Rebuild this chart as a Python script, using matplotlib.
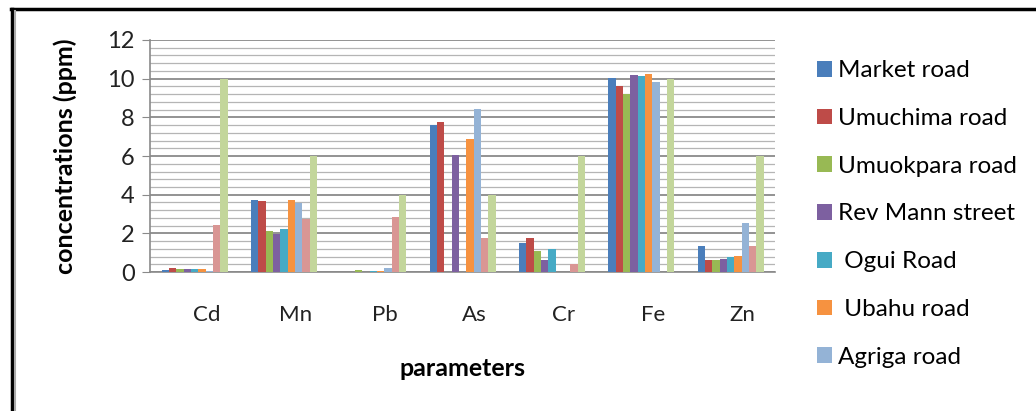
import matplotlib.pyplot as plt
import matplotlib.transforms as mtransforms
from matplotlib.lines import Line2D
from matplotlib.ticker import MultipleLocator
import numpy as np

plt.rcParams['font.family'] = ['Lato', 'DejaVu Sans']

params = ["Cd", "Mn", "Pb", "As", "Cr", "Fe", "Zn"]
sites = ["Market road", "Umuchima road", "Umuokpara road", "Rev Mann street",
         " Ogui Road", " Ubahu road", "Agriga road", "Standard 1", "Standard 2"]
colors = ["#4A7EBB", "#BE4B48", "#98B954", "#7D60A0", "#46AAC5",
          "#F69240", "#94B3D6", "#D99694", "#C3D69B"]

market = [0.09, 3.75, 0.0, 7.63, 1.49, 10.03, 1.35]
umuchima = [0.20, 3.67, 0.0, 7.77, 1.78, 9.62, 0.60]
umuokpara = [0.14, 2.11, 0.09, 0.0, 1.07, 9.19, 0.60]
rev_mann = [0.14, 1.96, 0.0, 6.04, 0.60, 10.19, 0.67]
ogui = [0.14, 2.25, 0.08, 0.0, 1.18, 10.12, 0.76]
ubahu = [0.14, 3.75, 0.08, 6.90, 0.0, 10.26, 0.81]
agriga = [0.08, 3.58, 0.20, 8.43, 0.0, 9.84, 2.53]
standard_1 = [2.46, 2.75, 2.85, 1.77, 0.40, 0.0, 1.35]
standard_2 = [10.0, 6.0, 4.0, 4.0, 6.0, 10.0, 6.0]

series = [market, umuchima, umuokpara, rev_mann, ogui, ubahu, agriga,
          standard_1, standard_2]

fig = plt.figure(figsize=(10.36, 4.11), dpi=100)
ax = fig.add_axes([0.1448, 0.338, 0.6035, 0.5647])

x = np.arange(len(params))
w = 0.082
handles = []
for i, (vals, col) in enumerate(zip(series, colors)):
    b = ax.bar(x + (i - 4) * w, vals, width=w, color=col, zorder=3)
    handles.append(b)

ax.set_xlim(-0.5, 6.5)
ax.set_ylim(0, 12)
ax.yaxis.set_major_locator(MultipleLocator(2))
ax.yaxis.set_minor_locator(MultipleLocator(0.4))
ax.grid(axis='y', which='major', color='#8a8a8a', lw=1.3, zorder=0)
ax.grid(axis='y', which='minor', color='#b5b5b5', lw=0.9, zorder=0)

for s in ['top', 'right']:
    ax.spines[s].set_visible(False)
ax.spines['left'].set_color('#8a8a8a')
ax.spines['bottom'].set_color('#8a8a8a')
ax.spines['left'].set_linewidth(1.2)
ax.spines['bottom'].set_linewidth(1.2)

ax.tick_params(axis='y', which='major', length=6, color='#8a8a8a',
               labelsize=17, pad=5, labelcolor='#222222')
ax.tick_params(axis='y', which='minor', length=0)
ax.set_xticks(x)
ax.set_xticklabels(params)
ax.tick_params(axis='x', length=0, labelsize=16, pad=24, labelcolor='#222222')
offset = mtransforms.ScaledTranslation(12 / 100, 0, fig.dpi_scale_trans)
for lbl in ax.get_xticklabels():
    lbl.set_transform(lbl.get_transform() + offset)

ax.set_ylabel("concentrations (ppm)", fontsize=18, fontweight='bold')
ax.yaxis.set_label_coords(-0.136, 0.5)
ax.yaxis.label.set_va('center')
ax.set_xlabel("parameters", fontsize=18, fontweight='bold')
ax.xaxis.set_label_coords(0.5, -0.414)
ax.xaxis.label.set_va('center')

fig.legend(handles[:7], sites[:7], loc='upper left',
           bbox_to_anchor=(0.779, 0.877), frameon=False, fontsize=17.5,
           handlelength=0.62, handleheight=0.62, handletextpad=0.25,
           labelspacing=1.1, borderaxespad=0)

# outer frame (top and left edges)
fig.add_artist(Line2D([0.0105, 1.0], [0.978, 0.978], transform=fig.transFigure,
                      color='black', lw=2.5))
fig.add_artist(Line2D([0.0115, 0.0115], [0.0, 0.978], transform=fig.transFigure,
                      color='black', lw=2.5))
fig.add_artist(Line2D([0.0145, 0.0145], [0.0, 0.973], transform=fig.transFigure,
                      color='#aaaaaa', lw=1.5))

fig.savefig("out.png", dpi=100)
